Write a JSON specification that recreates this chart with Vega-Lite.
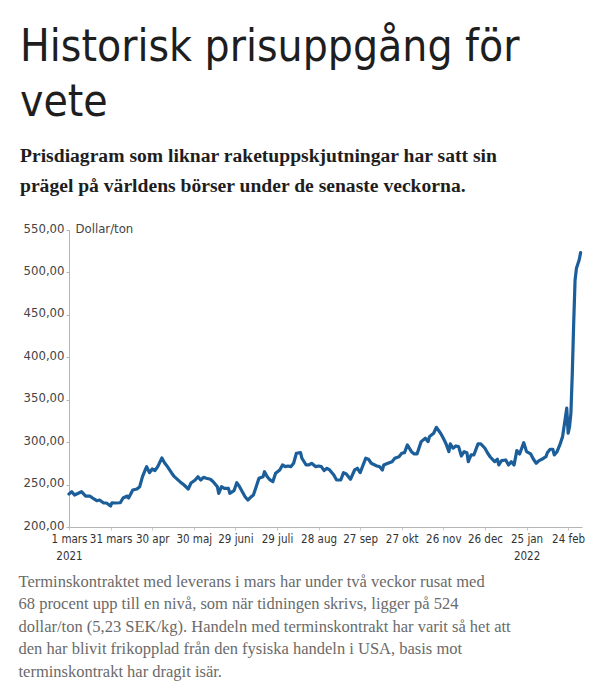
{
  "$schema": "https://vega.github.io/schema/vega-lite/v6.json",
  "autosize": {"type": "none"},
  "width": 513,
  "height": 297,
  "padding": {"left": 69, "top": 230, "right": 33, "bottom": 173},
  "background": "white",
  "config": {"view": {"stroke": null}},
  "title": {
    "text": ["Historisk prisuppgång för", "vete"],
    "subtitle": ["Prisdiagram som liknar raketuppskjutningar har satt sin", "prägel på världens börser under de senaste veckorna."],
    "anchor": "start",
    "frame": "group",
    "dx": -49,
    "offset": 26,
    "font": "DejaVu Sans Condensed, Roboto Condensed, sans-serif",
    "fontSize": 44,
    "fontWeight": "normal",
    "lineHeight": 55,
    "color": "#1e1e1e",
    "subtitleFont": "Liberation Serif",
    "subtitleFontSize": 19.6,
    "subtitleFontWeight": "bold",
    "subtitleColor": "#1e1e1e",
    "subtitleLineHeight": 30,
    "subtitlePadding": 22
  },
  "data": {
    "values": [
      {"datum": "2021-03-01", "pris": 238.9},
      {"datum": "2021-03-03", "pris": 241.6},
      {"datum": "2021-03-05", "pris": 237.7},
      {"datum": "2021-03-10", "pris": 241.6},
      {"datum": "2021-03-13", "pris": 236.5},
      {"datum": "2021-03-16", "pris": 236.5},
      {"datum": "2021-03-18", "pris": 234.2},
      {"datum": "2021-03-21", "pris": 231.0},
      {"datum": "2021-03-23", "pris": 231.8},
      {"datum": "2021-03-26", "pris": 228.3},
      {"datum": "2021-03-28", "pris": 228.3},
      {"datum": "2021-03-31", "pris": 224.8},
      {"datum": "2021-04-01", "pris": 228.6},
      {"datum": "2021-04-03", "pris": 228.3},
      {"datum": "2021-04-07", "pris": 228.6},
      {"datum": "2021-04-09", "pris": 234.2},
      {"datum": "2021-04-12", "pris": 236.5},
      {"datum": "2021-04-13", "pris": 234.2},
      {"datum": "2021-04-16", "pris": 243.6},
      {"datum": "2021-04-19", "pris": 244.8},
      {"datum": "2021-04-21", "pris": 247.5},
      {"datum": "2021-04-23", "pris": 259.3},
      {"datum": "2021-04-25", "pris": 267.2},
      {"datum": "2021-04-26", "pris": 271.1},
      {"datum": "2021-04-28", "pris": 264.0},
      {"datum": "2021-04-30", "pris": 268.4},
      {"datum": "2021-05-02", "pris": 266.4},
      {"datum": "2021-05-04", "pris": 271.1},
      {"datum": "2021-05-07", "pris": 281.4},
      {"datum": "2021-05-09", "pris": 275.5},
      {"datum": "2021-05-11", "pris": 271.1},
      {"datum": "2021-05-14", "pris": 263.7},
      {"datum": "2021-05-16", "pris": 259.3},
      {"datum": "2021-05-20", "pris": 253.4},
      {"datum": "2021-05-23", "pris": 249.5},
      {"datum": "2021-05-26", "pris": 244.8},
      {"datum": "2021-05-28", "pris": 251.9},
      {"datum": "2021-05-31", "pris": 255.4},
      {"datum": "2021-06-02", "pris": 259.3},
      {"datum": "2021-06-04", "pris": 255.4},
      {"datum": "2021-06-06", "pris": 258.6},
      {"datum": "2021-06-08", "pris": 257.4},
      {"datum": "2021-06-11", "pris": 256.2},
      {"datum": "2021-06-13", "pris": 253.4},
      {"datum": "2021-06-16", "pris": 247.5},
      {"datum": "2021-06-17", "pris": 239.7},
      {"datum": "2021-06-19", "pris": 247.5},
      {"datum": "2021-06-21", "pris": 245.6},
      {"datum": "2021-06-24", "pris": 245.6},
      {"datum": "2021-06-25", "pris": 239.7},
      {"datum": "2021-06-28", "pris": 242.8},
      {"datum": "2021-06-30", "pris": 252.2},
      {"datum": "2021-07-02", "pris": 247.5},
      {"datum": "2021-07-04", "pris": 241.6},
      {"datum": "2021-07-06", "pris": 235.7},
      {"datum": "2021-07-08", "pris": 231.8},
      {"datum": "2021-07-10", "pris": 235.0},
      {"datum": "2021-07-12", "pris": 237.7},
      {"datum": "2021-07-14", "pris": 247.5},
      {"datum": "2021-07-16", "pris": 257.4},
      {"datum": "2021-07-19", "pris": 259.3},
      {"datum": "2021-07-20", "pris": 265.2},
      {"datum": "2021-07-22", "pris": 259.3},
      {"datum": "2021-07-24", "pris": 255.4},
      {"datum": "2021-07-26", "pris": 253.4},
      {"datum": "2021-07-28", "pris": 263.3},
      {"datum": "2021-07-31", "pris": 267.2},
      {"datum": "2021-08-02", "pris": 273.1},
      {"datum": "2021-08-04", "pris": 271.1},
      {"datum": "2021-08-06", "pris": 271.9},
      {"datum": "2021-08-08", "pris": 271.1},
      {"datum": "2021-08-10", "pris": 275.1},
      {"datum": "2021-08-12", "pris": 286.9},
      {"datum": "2021-08-15", "pris": 287.6},
      {"datum": "2021-08-16", "pris": 281.0},
      {"datum": "2021-08-19", "pris": 273.1},
      {"datum": "2021-08-21", "pris": 273.1},
      {"datum": "2021-08-23", "pris": 275.1},
      {"datum": "2021-08-26", "pris": 271.1},
      {"datum": "2021-08-28", "pris": 271.9},
      {"datum": "2021-08-30", "pris": 271.1},
      {"datum": "2021-09-01", "pris": 266.4},
      {"datum": "2021-09-03", "pris": 269.2},
      {"datum": "2021-09-05", "pris": 267.2},
      {"datum": "2021-09-08", "pris": 261.3},
      {"datum": "2021-09-10", "pris": 255.4},
      {"datum": "2021-09-13", "pris": 255.4},
      {"datum": "2021-09-15", "pris": 264.0},
      {"datum": "2021-09-17", "pris": 262.5},
      {"datum": "2021-09-20", "pris": 256.2},
      {"datum": "2021-09-23", "pris": 267.2},
      {"datum": "2021-09-25", "pris": 269.2},
      {"datum": "2021-09-27", "pris": 264.0},
      {"datum": "2021-10-01", "pris": 281.0},
      {"datum": "2021-10-03", "pris": 279.8},
      {"datum": "2021-10-05", "pris": 275.1},
      {"datum": "2021-10-09", "pris": 271.9},
      {"datum": "2021-10-11", "pris": 271.1},
      {"datum": "2021-10-13", "pris": 267.2},
      {"datum": "2021-10-14", "pris": 273.1},
      {"datum": "2021-10-17", "pris": 275.1},
      {"datum": "2021-10-20", "pris": 277.0},
      {"datum": "2021-10-22", "pris": 281.0},
      {"datum": "2021-10-25", "pris": 282.9},
      {"datum": "2021-10-27", "pris": 286.9},
      {"datum": "2021-10-29", "pris": 287.6},
      {"datum": "2021-10-31", "pris": 296.7},
      {"datum": "2021-11-03", "pris": 288.8},
      {"datum": "2021-11-05", "pris": 286.1},
      {"datum": "2021-11-07", "pris": 286.1},
      {"datum": "2021-11-10", "pris": 300.6},
      {"datum": "2021-11-13", "pris": 304.6},
      {"datum": "2021-11-15", "pris": 300.6},
      {"datum": "2021-11-16", "pris": 306.5},
      {"datum": "2021-11-19", "pris": 310.5},
      {"datum": "2021-11-21", "pris": 317.5},
      {"datum": "2021-11-24", "pris": 310.5},
      {"datum": "2021-11-26", "pris": 304.6},
      {"datum": "2021-11-28", "pris": 297.9},
      {"datum": "2021-11-30", "pris": 288.8},
      {"datum": "2021-12-01", "pris": 297.9},
      {"datum": "2021-12-03", "pris": 292.8},
      {"datum": "2021-12-05", "pris": 295.5},
      {"datum": "2021-12-07", "pris": 294.7},
      {"datum": "2021-12-09", "pris": 283.7},
      {"datum": "2021-12-11", "pris": 288.8},
      {"datum": "2021-12-13", "pris": 287.6},
      {"datum": "2021-12-14", "pris": 277.0},
      {"datum": "2021-12-16", "pris": 284.9},
      {"datum": "2021-12-18", "pris": 284.9},
      {"datum": "2021-12-21", "pris": 297.9},
      {"datum": "2021-12-23", "pris": 297.9},
      {"datum": "2021-12-26", "pris": 292.8},
      {"datum": "2021-12-28", "pris": 286.9},
      {"datum": "2021-12-30", "pris": 282.2},
      {"datum": "2022-01-02", "pris": 277.0},
      {"datum": "2022-01-04", "pris": 279.8},
      {"datum": "2022-01-05", "pris": 273.1},
      {"datum": "2022-01-07", "pris": 278.2},
      {"datum": "2022-01-10", "pris": 279.0},
      {"datum": "2022-01-12", "pris": 273.1},
      {"datum": "2022-01-14", "pris": 277.0},
      {"datum": "2022-01-16", "pris": 273.1},
      {"datum": "2022-01-18", "pris": 290.0},
      {"datum": "2022-01-20", "pris": 286.1},
      {"datum": "2022-01-23", "pris": 299.4},
      {"datum": "2022-01-25", "pris": 288.8},
      {"datum": "2022-01-28", "pris": 286.1},
      {"datum": "2022-01-30", "pris": 279.8},
      {"datum": "2022-02-01", "pris": 275.1},
      {"datum": "2022-02-03", "pris": 278.2},
      {"datum": "2022-02-05", "pris": 279.8},
      {"datum": "2022-02-08", "pris": 282.9},
      {"datum": "2022-02-09", "pris": 287.6},
      {"datum": "2022-02-11", "pris": 291.6},
      {"datum": "2022-02-13", "pris": 291.6},
      {"datum": "2022-02-14", "pris": 284.9},
      {"datum": "2022-02-16", "pris": 288.8},
      {"datum": "2022-02-18", "pris": 296.7},
      {"datum": "2022-02-20", "pris": 306.5},
      {"datum": "2022-02-23", "pris": 340.0},
      {"datum": "2022-02-24", "pris": 310.5},
      {"datum": "2022-02-25", "pris": 318.0},
      {"datum": "2022-02-26", "pris": 334.0},
      {"datum": "2022-02-27", "pris": 381.0},
      {"datum": "2022-02-28", "pris": 440.0},
      {"datum": "2022-03-01", "pris": 491.0},
      {"datum": "2022-03-02", "pris": 505.0},
      {"datum": "2022-03-04", "pris": 515.0},
      {"datum": "2022-03-05", "pris": 523.4}
    ]
  },
  "mark": {"type": "line", "color": "#1b5e9a", "strokeWidth": 3.2, "strokeJoin": "round", "strokeCap": "round"},
  "encoding": {
    "x": {
      "field": "datum",
      "type": "temporal",
      "scale": {
        "type": "utc",
        "domain": [
          {"year": 2021, "month": 3, "date": 1, "utc": true},
          {"year": 2022, "month": 3, "date": 6, "utc": true}
        ]
      },
      "axis": {
        "values": [
          {"year": 2021, "month": 3, "date": 1, "utc": true},
          {"year": 2021, "month": 3, "date": 31, "utc": true},
          {"year": 2021, "month": 4, "date": 30, "utc": true},
          {"year": 2021, "month": 5, "date": 30, "utc": true},
          {"year": 2021, "month": 6, "date": 29, "utc": true},
          {"year": 2021, "month": 7, "date": 29, "utc": true},
          {"year": 2021, "month": 8, "date": 28, "utc": true},
          {"year": 2021, "month": 9, "date": 27, "utc": true},
          {"year": 2021, "month": 10, "date": 27, "utc": true},
          {"year": 2021, "month": 11, "date": 26, "utc": true},
          {"year": 2021, "month": 12, "date": 26, "utc": true},
          {"year": 2022, "month": 1, "date": 25, "utc": true},
          {"year": 2022, "month": 2, "date": 24, "utc": true}
        ],
        "labelExpr": "(utcyear(datum.value) == 2021 && utcmonth(datum.value) == 2 && utcdate(datum.value) == 1) ? ['1 mars', '2021'] : (utcyear(datum.value) == 2022 && utcmonth(datum.value) == 0) ? [utcdate(datum.value) + ' jan', '2022'] : utcdate(datum.value) + ' ' + ['jan','feb','mars','apr','maj','juni','juli','aug','sep','okt','nov','dec'][utcmonth(datum.value)]",
        "labelFont": "DejaVu Sans Condensed, Roboto Condensed, sans-serif",
        "labelFontSize": 11.5,
        "labelColor": "#333333",
        "labelLineHeight": 17,
        "labelPadding": 3,
        "labelOverlap": false,
        "labelFlush": false,
        "grid": false,
        "domainColor": "#b5b5b5",
        "domainWidth": 1,
        "tickColor": "#c8c8c8",
        "tickSize": 3,
        "title": [
          "Terminskontraktet med leverans i mars har under två veckor rusat med",
          "68 procent upp till en nivå, som när tidningen skrivs, ligger på 524",
          "dollar/ton (5,23 SEK/kg). Handeln med terminskontrakt har varit så het att",
          "den har blivit frikopplad från den fysiska handeln i USA, basis mot",
          "terminskontrakt har dragit isär."
        ],
        "titleFont": "Liberation Serif",
        "titleFontSize": 16.5,
        "titleFontWeight": "normal",
        "titleColor": "#6a6a6a",
        "titleLineHeight": 22.5,
        "titleAlign": "left",
        "titleAnchor": "start",
        "titleBaseline": "alphabetic",
        "titleX": -51,
        "titleY": 59
      }
    },
    "y": {
      "field": "pris",
      "type": "quantitative",
      "scale": {"domain": [200, 550], "nice": false, "zero": false},
      "axis": {
        "values": [200, 250, 300, 350, 400, 450, 500, 550],
        "labelExpr": "replace(format(datum.value, '.2f'), '.', ',')",
        "labelFont": "DejaVu Sans Condensed, Roboto Condensed, sans-serif",
        "labelFontSize": 13,
        "labelColor": "#444444",
        "labelPadding": 2,
        "labelOffset": -2,
        "grid": false,
        "domainColor": "#b5b5b5",
        "domainWidth": 1,
        "tickColor": "#b5b5b5",
        "tickSize": 3,
        "title": "Dollar/ton",
        "titleFont": "DejaVu Sans Condensed, Roboto Condensed, sans-serif",
        "titleFontSize": 13,
        "titleFontWeight": "normal",
        "titleColor": "#444444",
        "titleAngle": 0,
        "titleAlign": "left",
        "titleBaseline": "middle",
        "titleX": 6,
        "titleY": -2
      }
    }
  }
}
